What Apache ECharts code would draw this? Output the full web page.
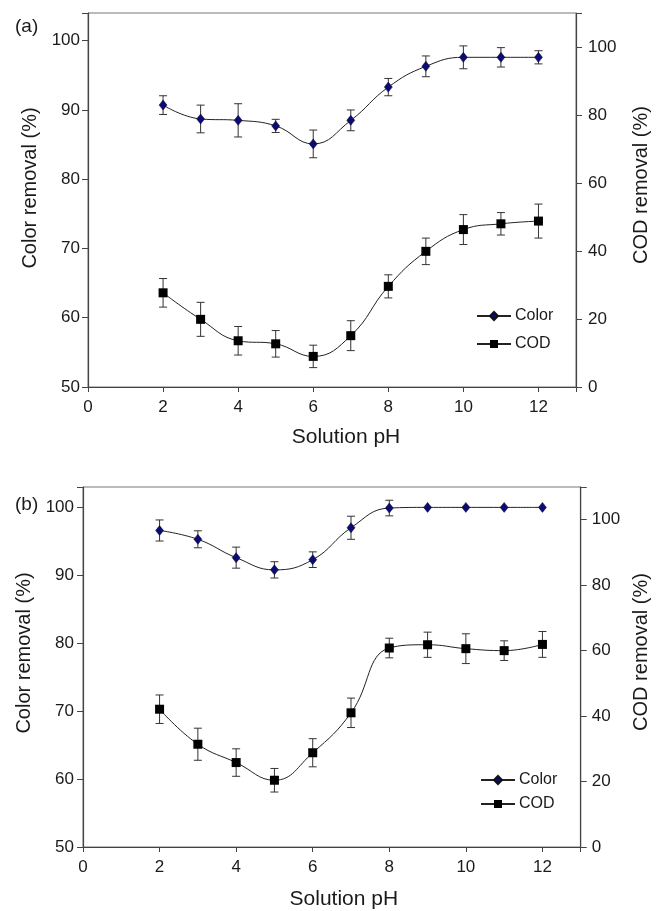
<!DOCTYPE html>
<html>
<head>
<meta charset="utf-8">
<script src="https://cdn.jsdelivr.net/npm/echarts@6/dist/echarts.min.js"></script>
<style>
  html, body { margin: 0; padding: 0; background: #fff; }
  #chart { width: 659px; height: 911px; }
</style>
</head>
<body>
<div id="chart"></div>
<script>
// pH values shared by both panels
const phValues = [2, 3, 4, 5, 6, 7, 8, 9, 10, 11, 12];

// panel (a)
const colorA = [90.7, 88.7, 88.5, 87.7, 85.1, 88.5, 93.3, 96.3, 97.6, 97.6, 97.6];
const colorAErr = [1.35, 2.0, 2.4, 0.95, 2.0, 1.5, 1.25, 1.5, 1.65, 1.4, 0.95];
const codA = [27.7, 19.9, 13.6, 12.7, 9.0, 15.1, 29.6, 39.9, 46.3, 48.0, 48.8];
const codAErr = [4.2, 5.0, 4.2, 3.9, 3.3, 4.4, 3.4, 3.9, 4.4, 3.3, 5.0];

// panel (b)
const colorB = [96.6, 95.3, 92.6, 90.8, 92.3, 97.0, 99.9, 100, 100, 100, 100];
const colorBErr = [1.55, 1.25, 1.55, 1.2, 1.15, 1.7, 1.15, 0, 0, 0, 0];
const codB = [42.1, 31.4, 25.8, 20.4, 28.8, 41.0, 60.8, 61.8, 60.6, 60.0, 61.9];
const codBErr = [4.35, 4.9, 4.2, 3.6, 4.3, 4.5, 3.0, 3.85, 4.55, 3.0, 3.95];

const FONT = 'Liberation Sans, Arial, sans-serif';
const TEXT = '#1a1a1a';
const AXIS = '#444';

const chart = echarts.init(document.getElementById('chart'), null, { renderer: 'canvas' });

function pairs(ys) {
  return phValues.map((x, i) => [x, ys[i]]);
}

function errorBars(xIdx, yIdx, ys, errs) {
  return {
    type: 'custom',
    xAxisIndex: xIdx,
    yAxisIndex: yIdx,
    z: 1,
    silent: true,
    encode: { x: 0, y: [1, 2] },
    data: phValues.map((x, i) => [x, ys[i] - errs[i], ys[i] + errs[i]]),
    renderItem: function (params, api) {
      if (api.value(2) - api.value(1) <= 0) return null;
      const lo = api.coord([api.value(0), api.value(1)]);
      const hi = api.coord([api.value(0), api.value(2)]);
      const w = 4;
      const style = { stroke: '#333', lineWidth: 1 };
      return {
        type: 'group',
        children: [
          { type: 'line', shape: { x1: lo[0], y1: lo[1], x2: hi[0], y2: hi[1] }, style: style },
          { type: 'line', shape: { x1: hi[0] - w, y1: hi[1], x2: hi[0] + w, y2: hi[1] }, style: style },
          { type: 'line', shape: { x1: lo[0] - w, y1: lo[1], x2: lo[0] + w, y2: lo[1] }, style: style }
        ]
      };
    }
  };
}

function colorLine(xIdx, yIdx, ys) {
  return {
    name: 'Color',
    type: 'line',
    xAxisIndex: xIdx,
    yAxisIndex: yIdx,
    smooth: 0.45,
    symbol: 'diamond',
    symbolSize: [8, 10],
    z: 3,
    lineStyle: { color: '#222', width: 1 },
    itemStyle: { color: '#0a0a78', borderColor: '#111', borderWidth: 0.5 },
    data: pairs(ys)
  };
}

function codLine(xIdx, yIdx, ys) {
  return {
    name: 'COD',
    type: 'line',
    xAxisIndex: xIdx,
    yAxisIndex: yIdx,
    smooth: 0.45,
    symbol: 'rect',
    symbolSize: 9,
    z: 3,
    lineStyle: { color: '#222', width: 1 },
    itemStyle: { color: '#000' },
    data: pairs(ys)
  };
}

function xAxis(gridIndex, nameGap, shift) {
  return {
    type: 'value', gridIndex: gridIndex, min: 0, max: 13, interval: 2,
    name: 'Solution pH', nameLocation: 'middle', nameGap: nameGap,
    nameTextStyle: { fontFamily: FONT, fontSize: 21, color: TEXT, padding: [0, 0, 0, shift] },
    axisLine: { lineStyle: { color: AXIS, width: 1.2 } },
    axisTick: { length: 5, lineStyle: { color: AXIS } },
    axisLabel: { margin: 12, fontFamily: FONT, fontSize: 17, color: TEXT,
      formatter: v => (v % 2 === 0 ? String(v) : '') },
    splitLine: { show: false }
  };
}

function yAxis(gridIndex, pos, name, min, max, interval, nameGap, margin, shift) {
  return {
    type: 'value', gridIndex: gridIndex, position: pos, min: min, max: max, interval: interval,
    name: name, nameLocation: 'middle', nameGap: nameGap, nameRotate: 90,
    nameTextStyle: { fontFamily: FONT, fontSize: 20, color: TEXT, padding: [0, 0, 0, shift] },
    axisLine: { show: true, lineStyle: { color: AXIS, width: 1.2 } },
    axisTick: { length: 6, lineStyle: { color: AXIS } },
    axisLabel: { margin: margin, fontFamily: FONT, fontSize: 17, color: TEXT,
      formatter: v => ((v - min) % interval === 0 && v <= 100 ? String(v) : '') },
    splitLine: { show: false }
  };
}

function legend(left, top, gap) {
  return {
    data: ['Color', 'COD'],
    orient: 'vertical',
    left: left, top: top,
    itemWidth: 34, itemHeight: 10, itemGap: gap,
    selectedMode: false,
    textStyle: { fontFamily: FONT, fontSize: 16, color: TEXT, padding: [0, 0, 0, -1] }
  };
}

const option = {
  backgroundColor: '#fff',
  animation: false,
  title: [
    { text: '(a)', left: 10, top: 12, textStyle: { fontFamily: FONT, fontSize: 19, fontWeight: 'normal', color: TEXT } },
    { text: '(b)', left: 10, top: 490, textStyle: { fontFamily: FONT, fontSize: 19, fontWeight: 'normal', color: TEXT } }
  ],
  legend: [legend(471, 303, 12), legend(475, 767, 8)],
  grid: [
    { left: 88, top: 13, width: 493, height: 374, show: true, borderColor: '#777', borderWidth: 1 },
    { left: 83, top: 487, width: 512, height: 362, show: true, borderColor: '#777', borderWidth: 1 }
  ],
  xAxis: [xAxis(0, 40, 28), xAxis(1, 42, 24)],
  yAxis: [
    yAxis(0, 'left', 'Color removal (%)', 50, 104, 10, 45, 8, 24),
    yAxis(0, 'right', 'COD removal (%)', 0, 110, 20, 55, 12, 30),
    yAxis(1, 'left', 'Color removal (%)', 50, 103, 10, 46, 9, 28),
    yAxis(1, 'right', 'COD removal (%)', 0, 110, 20, 44, 11, 30)
  ],
  series: [
    errorBars(0, 0, colorA, colorAErr),
    errorBars(0, 1, codA, codAErr),
    colorLine(0, 0, colorA),
    codLine(0, 1, codA),
    errorBars(1, 2, colorB, colorBErr),
    errorBars(1, 3, codB, codBErr),
    colorLine(1, 2, colorB),
    codLine(1, 3, codB)
  ]
};

chart.setOption(option);
</script>
</body>
</html>
